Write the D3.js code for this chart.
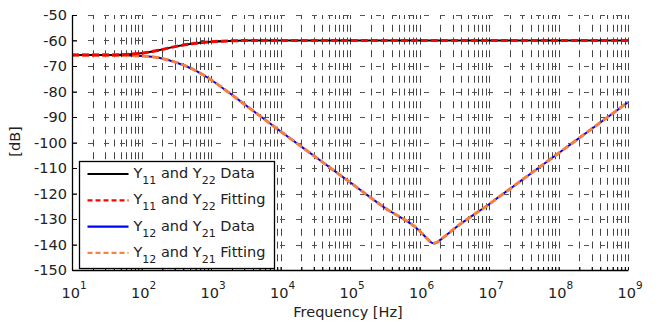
<!DOCTYPE html>
<html>
<head>
<meta charset="utf-8">
<script src="https://cdn.jsdelivr.net/npm/d3@7"></script>
<style>
  body { margin: 0; background: #fff; }
  text { font-family: "DejaVu Sans", Verdana, sans-serif; fill: #222; }
</style>
</head>
<body>
<div id="chart-area"></div>
<script>
const expY11 = [1, 1.5, 1.75, 2, 2.25, 2.5, 2.75, 3, 3.25, 3.5, 4, 5, 6, 7, 8, 9];
const dbY11 = [-65.7, -65.7, -65.5, -65, -63.8, -62.3, -61.2, -60.5, -60.15, -60.03, -60, -60, -60, -60, -60, -60];

const expY12 = [1, 1.5, 2, 2.25, 2.5, 2.75, 3, 3.25, 3.5, 4, 4.5, 5, 5.5, 6, 6.1, 6.15, 6.2, 6.25, 6.3, 6.4, 6.5, 7, 7.5, 8, 8.5, 9];
const dbY12 = [-65.7, -65.7, -66.1, -66.8, -68.6, -71.4, -75.4, -80.3, -85.4, -95.6, -105.6, -115.6, -125.6, -134.6, -137.4, -138.8, -139.5, -139.2, -138.2, -136, -133.8, -124.2, -114.2, -104.2, -94.2, -84.2];

const yTicks = [-50, -60, -70, -80, -90, -100, -110, -120, -130, -140, -150];
const xDecades = [1, 2, 3, 4, 5, 6, 7, 8, 9];

const legendItems = [
    { sub1: "11", sub2: "22", word: "Data", color: "#000000", dash: null },
    { sub1: "11", sub2: "22", word: "Fitting", color: "#ff0000", dash: "5,3" },
    { sub1: "12", sub2: "21", word: "Data", color: "#0000ff", dash: null },
    { sub1: "12", sub2: "21", word: "Fitting", color: "#ff8040", dash: "5,3" }
];

const width = 659;
const height = 322;
const margin = { left: 72, right: 31, top: 15, bottom: 52 };
const chartWidth = width - margin.left - margin.right;
const chartHeight = height - margin.top - margin.bottom;

const svg = d3.select('#chart-area')
    .append('svg')
    .attr('width', width)
    .attr('height', height);

const g = svg.append('g')
    .attr('transform', `translate(${margin.left}, ${margin.top})`);

const x = d3.scaleLog()
    .domain([1e1, 1e9])
    .range([0, chartWidth]);

const y = d3.scaleLinear()
    .domain([-150, -50])
    .range([chartHeight, 0]);

// minor positions 1..9 in each decade
const gridFreqs = [];
xDecades.slice(0, -1).forEach(e => {
    for (let k = 1; k <= 9; k++) gridFreqs.push(k * Math.pow(10, e));
});
gridFreqs.push(1e9);

// dotted-style grid
g.append('g')
    .selectAll('line')
    .data(gridFreqs.filter(f => f > 10))
    .enter()
    .append('line')
    .attr('x1', d => Math.round(x(d)) + 0.5)
    .attr('x2', d => Math.round(x(d)) + 0.5)
    .attr('y1', 0)
    .attr('y2', chartHeight)
    .attr('stroke', '#444')
    .attr('stroke-width', 1)
    .attr('stroke-dasharray', '7,5.75')
    .attr('stroke-dashoffset', 3);

g.append('g')
    .selectAll('line')
    .data(yTicks.filter(d => d > -150))
    .enter()
    .append('line')
    .attr('x1', 0)
    .attr('x2', chartWidth)
    .attr('y1', d => Math.round(y(d)) + 0.5)
    .attr('y2', d => Math.round(y(d)) + 0.5)
    .attr('stroke', '#555')
    .attr('stroke-width', 1)
    .attr('stroke-dasharray', '5,11');

// curves
const line = d3.line()
    .x(d => x(Math.pow(10, d[0])))
    .y(d => y(d[1]))
    .curve(d3.curveMonotoneX);

const y11 = expY11.map((e, i) => [e, dbY11[i]]);
const y12 = expY12.map((e, i) => [e, dbY12[i]]);

g.append('path').datum(y12).attr('d', line)
    .attr('fill', 'none').attr('stroke', '#0000ff').attr('stroke-width', 2);
g.append('path').datum(y12).attr('d', line)
    .attr('fill', 'none').attr('stroke', '#f5803c').attr('stroke-width', 3)
    .attr('stroke-dasharray', '7,3');
g.append('path').datum(y11).attr('d', line)
    .attr('fill', 'none').attr('stroke', '#000').attr('stroke-width', 2);
g.append('path').datum(y11).attr('d', line)
    .attr('fill', 'none').attr('stroke', '#ff0000').attr('stroke-width', 3)
    .attr('stroke-dasharray', '7,3');

// axes
const xAxis = d3.axisBottom(x)
    .tickValues(gridFreqs)
    .tickSizeInner(-3)
    .tickSizeOuter(0)
    .tickFormat('');
g.append('g')
    .attr('class', 'x axis')
    .attr('transform', `translate(0, ${chartHeight})`)
    .call(xAxis)
    .call(s => s.selectAll('line').attr('stroke', '#000'))
    .call(s => s.select('.domain').attr('stroke', '#000').attr('stroke-width', 1.3));

const yAxis = d3.axisLeft(y)
    .tickValues(yTicks)
    .tickSizeInner(-5)
    .tickSizeOuter(0)
    .tickPadding(5)
    .tickFormat(d => d);
g.append('g')
    .attr('class', 'y axis')
    .call(yAxis)
    .call(s => s.selectAll('line').attr('stroke', '#000'))
    .call(s => s.select('.domain').attr('stroke', '#000').attr('stroke-width', 1.3))
    .call(s => s.selectAll('text')
        .style('font-family', '"DejaVu Sans", Verdana, sans-serif')
        .style('font-size', '14.5px')
        .attr('fill', '#222'));

// decade labels 10^n
const xLabels = g.append('g')
    .selectAll('text')
    .data(xDecades)
    .enter()
    .append('text')
    .attr('x', d => x(Math.pow(10, d)) + 2)
    .attr('y', chartHeight + 28)
    .attr('text-anchor', 'middle')
    .style('font-size', '14.5px');
xLabels.append('tspan').text('10');
xLabels.append('tspan')
    .attr('dy', -9)
    .style('font-size', '10.5px')
    .text(d => d);

// axis titles
svg.append('text')
    .attr('x', margin.left + chartWidth / 2 - 2)
    .attr('y', 317)
    .attr('text-anchor', 'middle')
    .style('font-size', '14.5px')
    .text('Frequency [Hz]');

svg.append('text')
    .attr('transform', `translate(20, ${margin.top + chartHeight / 2 - 1}) rotate(-90)`)
    .attr('text-anchor', 'middle')
    .style('font-size', '14.5px')
    .text('[dB]');

// legend
const legend = svg.append('g').attr('transform', 'translate(79.5, 161.5)');
legend.append('rect')
    .attr('width', 195)
    .attr('height', 107)
    .attr('fill', '#fff')
    .attr('stroke', '#000')
    .attr('stroke-width', 1.3);

const rows = legend.selectAll('g.row')
    .data(legendItems)
    .enter()
    .append('g')
    .attr('class', 'row')
    .attr('transform', (d, i) => `translate(0, ${12.5 + i * 26.3})`);

rows.append('line')
    .attr('x1', 8).attr('x2', 49)
    .attr('y1', 0).attr('y2', 0)
    .attr('stroke', d => d.color)
    .attr('stroke-width', 2.2)
    .attr('stroke-dasharray', d => d.dash);

const lt = rows.append('text')
    .attr('x', 54)
    .attr('y', 4)
    .style('font-size', '14.5px');
lt.append('tspan').text('Y');
lt.append('tspan').attr('dy', 6).style('font-size', '11px').text(d => d.sub1);
lt.append('tspan').attr('dy', -6).text(' and Y');
lt.append('tspan').attr('dy', 6).style('font-size', '11px').text(d => d.sub2);
lt.append('tspan').attr('dy', -6).text(d => ' ' + d.word);
</script>
</body>
</html>
